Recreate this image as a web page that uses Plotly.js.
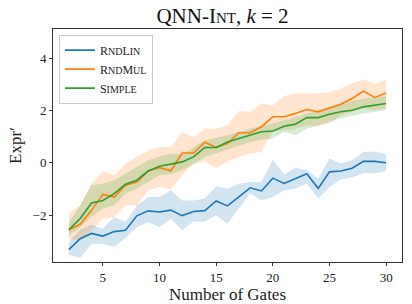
<!DOCTYPE html>
<html>
<head>
<meta charset="utf-8">
<script src="https://cdn.plot.ly/plotly-3.0.1.min.js"></script>
<style>html,body{margin:0;padding:0;background:#fff;}#chart{width:412px;height:304px;}</style>
</head>
<body>
<div id="chart"></div>
<script>
const gates = [2,3,4,5,6,7,8,9,10,11,12,13,14,15,16,17,18,19,20,21,22,23,24,25,26,27,28,29,30];

const rndLinMean  = [-3.31,-2.89,-2.69,-2.79,-2.62,-2.57,-2.02,-1.83,-1.87,-1.80,-2.01,-1.85,-1.82,-1.45,-1.64,-1.30,-0.95,-1.07,-0.58,-0.78,-0.58,-0.41,-0.97,-0.34,-0.31,-0.20,0.06,0.06,0.01];
const rndLinUpper = [-3.00,-2.55,-2.35,-2.51,-2.06,-2.25,-1.62,-1.30,-1.30,-1.04,-1.43,-1.43,-1.36,-0.89,-0.98,-0.79,-0.73,-0.73,0.13,-0.43,-0.18,-0.28,-0.60,0.17,-0.02,0.10,0.42,0.44,0.33];
const rndLinLower = [-3.50,-3.62,-3.08,-3.08,-3.21,-2.85,-2.45,-2.25,-2.45,-2.13,-2.57,-2.23,-2.23,-2.00,-2.32,-1.74,-1.17,-1.43,-1.30,-1.04,-0.98,-0.79,-1.36,-0.92,-0.63,-0.56,-0.38,-0.40,-0.31];

const rndMulMean  = [-2.55,-2.34,-1.81,-1.20,-1.30,-0.85,-0.73,-0.31,-0.18,-0.30,0.38,0.38,0.79,0.59,0.74,1.15,1.15,1.38,1.76,1.76,1.89,2.04,1.95,2.08,2.24,2.46,2.74,2.50,2.67];
const rndMulUpper = [-1.90,-1.62,-0.79,-0.31,-0.47,-0.02,0.23,0.48,0.60,0.61,1.19,0.99,1.31,1.30,1.44,1.98,1.95,2.27,2.20,2.55,2.65,2.65,2.66,2.71,2.84,3.03,3.19,3.01,3.19];
const rndMulLower = [-2.90,-2.95,-2.57,-2.13,-2.06,-1.62,-1.62,-1.04,-0.92,-1.00,-0.47,-0.02,0.05,-0.21,0.05,0.23,0.36,0.42,1.20,1.25,1.30,1.45,1.40,1.50,1.80,1.95,2.10,2.00,2.10];

const simpleMean  = [-2.55,-2.12,-1.53,-1.43,-1.17,-0.81,-0.66,-0.31,-0.13,-0.05,0.04,0.23,0.59,0.59,0.80,0.93,1.06,1.19,1.22,1.40,1.48,1.73,1.73,1.86,1.95,2.01,2.14,2.20,2.27];
const simpleUpper = [-2.25,-1.62,-0.85,-0.79,-0.66,-0.41,-0.15,0.10,0.25,0.35,0.33,0.60,0.87,0.95,1.06,1.18,1.31,1.40,1.51,1.63,1.76,1.90,2.01,2.14,2.27,2.36,2.46,2.50,2.55];
const simpleLower = [-2.80,-2.45,-2.06,-1.74,-1.62,-1.17,-0.98,-0.73,-0.47,-0.43,-0.28,-0.05,0.23,0.35,0.51,0.65,0.80,0.88,0.93,1.19,1.06,1.30,1.44,1.57,1.70,1.80,1.89,1.95,2.01];

const seriesNames = ['R<span style="font-size:10px">ND</span>L<span style="font-size:10px">IN</span>',
                     'R<span style="font-size:10px">ND</span>M<span style="font-size:10px">UL</span>',
                     'S<span style="font-size:10px">IMPLE</span>'];
const colors = ['#1f77b4','#ff7f0e','#2ca02c'];
const bandColors = ['rgba(31,119,180,0.2)','rgba(255,127,14,0.2)','rgba(44,160,44,0.2)'];

const means = [rndLinMean, rndMulMean, simpleMean];
const uppers = [rndLinUpper, rndMulUpper, simpleUpper];
const lowers = [rndLinLower, rndMulLower, simpleLower];

const traces = [];
for (let i = 0; i < 3; i++) {
  traces.push({
    x: gates.concat(gates.slice().reverse()),
    y: uppers[i].concat(lowers[i].slice().reverse()),
    type: 'scatter', mode: 'lines', fill: 'toself',
    fillcolor: bandColors[i], line: {width: 0, color: bandColors[i]},
    showlegend: false, hoverinfo: 'skip'
  });
}
for (let i = 0; i < 3; i++) {
  traces.push({
    x: gates, y: means[i], type: 'scatter', mode: 'lines',
    name: seriesNames[i], line: {color: colors[i], width: 1.6}
  });
}

const serif = 'Liberation Serif, DejaVu Serif, serif';
const layout = {
  width: 412, height: 304,
  margin: {l: 53, r: 10, t: 29, b: 42},
  paper_bgcolor: '#fff', plot_bgcolor: '#fff',
  font: {family: serif, color: '#222', size: 13},
  title: {
    text: 'QNN-I<span style="font-size:15px">NT</span>, <i>k</i> = 2',
    font: {family: serif, size: 21, color: '#111'},
    x: 0.54, xanchor: 'center', y: 0.947, yanchor: 'middle', yref: 'container'
  },
  xaxis: {
    range: [0.6, 31.4], tickvals: [5,10,15,20,25,30],
    showgrid: false, zeroline: false,
    showline: true, mirror: true, linecolor: '#333', linewidth: 1,
    ticks: 'outside', ticklen: 3, tickcolor: '#333',
    tickfont: {family: serif, size: 13, color: '#222'},
    title: {text: 'Number of Gates', font: {family: serif, size: 17, color: '#222'}, standoff: 1}
  },
  yaxis: {
    range: [-3.78, 5.11], tickvals: [-2,0,2,4],
    showgrid: false, zeroline: false,
    showline: true, mirror: true, linecolor: '#333', linewidth: 1,
    ticks: 'outside', ticklen: 3, tickcolor: '#333',
    tickfont: {family: serif, size: 13, color: '#222'},
    title: {text: 'Expr′', font: {family: serif, size: 17, color: '#222'}, standoff: 6}
  },
  legend: {
    x: 0.017, y: 0.976, xanchor: 'left', yanchor: 'top',
    bgcolor: 'rgba(255,255,255,0.8)', bordercolor: '#ccc', borderwidth: 1,
    font: {family: serif, size: 12, color: '#222'},
    tracegroupgap: 0
  },
  showlegend: true
};

Plotly.newPlot('chart', traces, layout, {staticPlot: true, displayModeBar: false});
</script>
</body>
</html>
